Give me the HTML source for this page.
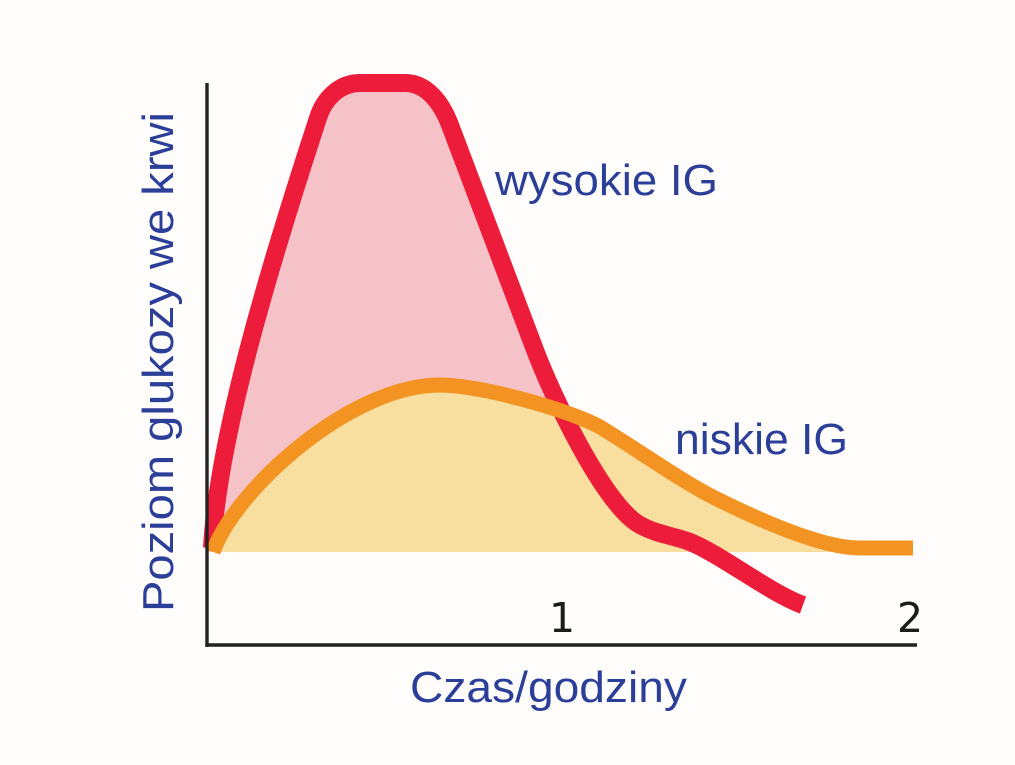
<!DOCTYPE html>
<html>
<head>
<meta charset="utf-8">
<style>
  html, body { margin: 0; padding: 0; background: #fefdfc; }
  body { width: 1015px; height: 765px; overflow: hidden; }
  svg { display: block; }
  .lbl { font-family: "Liberation Sans", "DejaVu Sans", sans-serif; fill: #2c3f98; font-size: 44px; }
  .num { font-family: "DejaVu Sans", "Liberation Sans", sans-serif; fill: #1c1c1c; font-size: 41px; font-weight: normal; }
</style>
</head>
<body>
<svg width="1015" height="765" viewBox="0 0 1015 765" xmlns="http://www.w3.org/2000/svg">
  <rect x="0" y="0" width="1015" height="765" fill="#fefdfc"/>

  <!-- pink fill under red curve -->
  <path d="M207,552 L212,548 C218,440 265,280 318,118 C324.3,98 340,83 360,83 L405,83 C428,83 442.4,105 450,125 L535,350 C554,400 605,506 640,525 C657,534.5 675,536 690,542 L712,552 Z" fill="#f5c2c8"/>

  <!-- yellow fill under orange curve -->
  <path d="M207,552 L213,552 C235,490 350,385 440,385 C480,385 570,410 600,427 C635,448 678,479 713,497 C753,517 820,548 860,548 L913,548 L913,552 Z" fill="#f8df9f"/>

  <!-- red curve (high GI) -->
  <path d="M212,548 C218,440 265,280 318,118 C324.3,98 340,83 360,83 L405,83 C428,83 442.4,105 450,125 L535,350 C554,400 605,506 640,525 C657,534.5 675,536 690,542 C720,554 770,593 803,605" fill="none" stroke="#ed1c3a" stroke-width="18" stroke-linejoin="round" stroke-linecap="butt"/>

  <!-- orange curve (low GI) -->
  <path d="M213,552 C235,490 350,385 440,385 C480,385 570,410 600,427 C635,448 678,479 713,497 C753,517 820,548 860,548 L913,548" fill="none" stroke="#f39321" stroke-width="15" stroke-linejoin="round" stroke-linecap="butt"/>

  <!-- axes -->
  <line x1="207" y1="83" x2="207" y2="647" stroke="#222" stroke-width="3.4"/>
  <line x1="205.3" y1="645" x2="917" y2="645" stroke="#222" stroke-width="3.4"/>

  <!-- labels -->
  <text class="lbl" x="495" y="195" textLength="223" lengthAdjust="spacingAndGlyphs">wysokie IG</text>
  <text class="lbl" x="675" y="454" textLength="173" lengthAdjust="spacingAndGlyphs">niskie IG</text>
  <text class="lbl" x="410" y="702" textLength="277" lengthAdjust="spacingAndGlyphs">Czas/godziny</text>
  <text class="lbl" transform="translate(173,612) rotate(-90)" x="0" y="0" textLength="500" lengthAdjust="spacingAndGlyphs">Poziom glukozy we krwi</text>

  <text class="num" x="549" y="632">1</text>
  <text class="num" x="897" y="632">2</text>
</svg>
</body>
</html>
